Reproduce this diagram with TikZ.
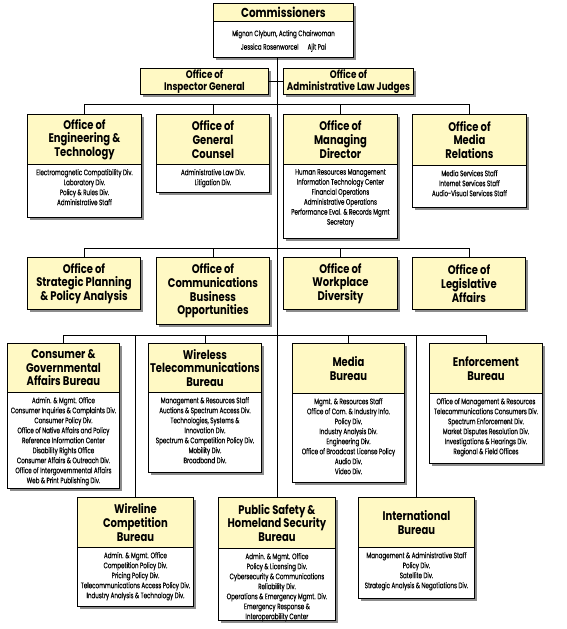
\documentclass[tikz,border=0pt]{standalone}
\usepackage{fontspec}
\setmainfont{Poppins}
\newfontfamily\ttlfont[FakeStretch=0.8]{Poppins}
\newfontfamily\bdyfont[FakeStretch=0.7, FakeBold=0.35]{Poppins}
\usetikzlibrary{shadows}
\definecolor{titleyellow}{RGB}{255,249,196}
\definecolor{shadowgray}{RGB}{120,120,120}
\tikzset{
  conn/.style={draw=black, line width=0.9pt},
  shadowed/.style={drop shadow={shadow xshift=3pt, shadow yshift=-3pt, fill=shadowgray, opacity=0.85}},
  unitframe/.style={draw=black, line width=0.9pt, fill=white, inner sep=0pt, shadowed},
  unittitle/.style={draw=black, line width=0.9pt, fill=titleyellow, inner sep=1pt, align=center,
    font=\ttlfont\bfseries\fontsize{12.5}{13.6}\selectfont},
  unitbody/.style={inner sep=0pt, align=center, font=\bdyfont\fontsize{8}{10}\selectfont, below=4pt},
  officebox/.style={draw=black, line width=0.9pt, fill=titleyellow, inner sep=1pt, align=center, shadowed,
    font=\ttlfont\bfseries\fontsize{12.5}{13.6}\selectfont},
  smalloffice/.style={officebox, font=\ttlfont\bfseries\fontsize{11}{12}\selectfont},
}
% name, x, y, width, title height, total height, title, body
\newcommand\orgunit[8]{%
  \node[unitframe, minimum width=#4pt, minimum height=#6pt, anchor=north west] (#1) at (#2,#3) {};
  \node[unittitle, minimum width=#4pt, minimum height=#5pt, anchor=north west] (#1-t) at (#1.north west) {#7};
  \node[unitbody] (#1-b) at (#1-t.south) {#8};
}
% name, x, y, width, height, title
\newcommand\orgoffice[6]{%
  \node[officebox, minimum width=#4pt, minimum height=#5pt, anchor=north west] (#1) at (#2,#3) {#6};
}
\begin{document}
\begin{tikzpicture}[x=1pt, y=-1pt]
\useasboundingbox (0,0) rectangle (567,629);

% Commissioners
\node[unitframe, minimum width=140pt, minimum height=54pt, anchor=north west] (comm) at (213,3) {};
\node[unittitle, minimum width=140pt, minimum height=18pt, anchor=north west,
  font=\ttlfont\bfseries\fontsize{13}{14}\selectfont] (comm-t) at (comm.north west) {Commissioners};
\node[unitbody, below=4pt, font=\bdyfont\fontsize{8}{13.5}\selectfont] (comm-b) at (comm-t.south)
  {Mignon Clyburn, Acting Chairwoman\\Jessica Rosenworcel\hspace{9pt}Ajit Pai};

% Offices beside the trunk
\node[smalloffice, minimum width=128pt, minimum height=26pt, anchor=north west] (oig) at (140,68) {Office of\\Inspector General};
\node[smalloffice, minimum width=130pt, minimum height=26pt, anchor=north west] (alj) at (283,68) {Office of\\Administrative Law Judges};

% Row 1
\orgunit{eng}{27}{114}{114}{50}{103}{Office of\\Engineering \&\\Technology}
  {Electromagnetic Compatibility Div.\\Laboratory Div.\\Policy \& Rules Div.\\Administrative Staff}
\orgunit{gc}{156}{114}{113}{50}{78}{Office of\\General\\Counsel}
  {Administrative Law Div.\\Litigation Div.}
\orgunit{md}{283}{114}{114}{50}{124}{Office of\\Managing\\Director}
  {Human Resources Management\\Information Technology Center\\Financial Operations\\Administrative Operations\\Performance Eval. \& Records Mgmt\\Secretary}
\orgunit{mr}{412}{114}{114}{51}{93}{Office of\\Media\\Relations}
  {Media Services Staff\\Internet Services Staff\\Audio-Visual Services Staff}

% Row 2
\orgoffice{sp}{27}{257}{113}{52}{Office of\\Strategic Planning\\\& Policy Analysis}
\orgoffice{cbo}{156}{257}{113}{67}{Office of\\Communications\\Business\\Opportunities}
\orgoffice{wd}{283}{257}{114}{52}{Office of\\Workplace\\Diversity}
\orgoffice{la}{412}{257}{113}{52}{Office of\\Legislative\\Affairs}

% Row 3
\orgunit{cgab}{7}{343}{112}{49}{145}{Consumer \&\\Governmental\\Affairs Bureau}
  {Admin. \& Mgmt. Office\\Consumer Inquiries \& Complaints Div.\\Consumer Policy Div.\\Office of Native Affairs and Policy\\Reference Information Center\\Disability Rights Office\\Consumer Affairs \& Outreach Div.\\Office of Intergovernmental Affairs\\Web \& Print Publishing Div.}
\orgunit{wtb}{148}{343}{113}{49}{129}{Wireless\\Telecommunications\\Bureau}
  {Management \& Resources Staff\\Auctions \& Spectrum Access Div.\\Technologies, Systems \&\\Innovation Div.\\Spectrum \& Competition Policy Div.\\Mobility Div.\\Broadband Div.}
\orgunit{mb}{292}{343}{112}{50}{139}{Media\\Bureau}
  {Mgmt. \& Resources Staff\\Office of Com. \& Industry Info.\\Policy Div.\\Industry Analysis Div.\\Engineering Div.\\Office of Broadcast License Policy\\Audio Div.\\Video Div.}
\orgunit{eb}{429}{343}{113}{50}{120}{Enforcement\\Bureau}
  {Office of Management \& Resources\\Telecommunications Consumers Div.\\Spectrum Enforcement Div.\\Market Disputes Resolution Div.\\Investigations \& Hearings Div.\\Regional \& Field Offices}

% Row 4
\orgunit{wcb}{77}{497}{116}{50}{109}{Wireline\\Competition\\Bureau}
  {Admin. \& Mgmt. Office\\Competition Policy Div.\\Pricing Policy Div.\\Telecommunications Access Policy Div.\\Industry Analysis \& Technology Div.}
\orgunit{ps}{218}{497}{117}{51}{123}{Public Safety \&\\Homeland Security\\Bureau}
  {Admin. \& Mgmt. Office\\Policy \& Licensing Div.\\Cybersecurity \& Communications\\Reliability Div.\\Operations \& Emergency Mgmt. Div.\\Emergency Response \&\\Interoperability Center}
\orgunit{ib}{358}{497}{116}{50}{101}{International\\Bureau}
  {Management \& Administrative Staff\\Policy Div.\\Satellite Div.\\Strategic Analysis \& Negotiations Div.}

% Connectors
\coordinate (bus1) at (277,104);
\coordinate (bus2) at (277,248);
\coordinate (bus3) at (277,335);

\draw[conn] (comm.south -| ps.north) -- (ps.north);
\draw[conn] (oig.east) -- (alj.west);

\draw[conn] (eng.north) -- (eng.north |- bus1) -- (mr.north |- bus1) -- (mr.north);
\draw[conn] (gc.north |- bus1) -- (gc.north);
\draw[conn] (md.north |- bus1) -- (md.north);

\draw[conn] (sp.north) -- (sp.north |- bus2) -- (la.north |- bus2) -- (la.north);
\draw[conn] (cbo.north |- bus2) -- (cbo.north);
\draw[conn] (wd.north |- bus2) -- (wd.north);

\draw[conn] (cgab.north) -- (cgab.north |- bus3) -- (eb.north |- bus3) -- (eb.north);
\draw[conn] (wtb.north |- bus3) -- (wtb.north);
\draw[conn] (mb.north |- bus3) -- (mb.north);
\draw[conn] (wcb.north |- bus3) -- (wcb.north);
\draw[conn] (ib.north |- bus3) -- (ib.north);
\end{tikzpicture}
\end{document}
